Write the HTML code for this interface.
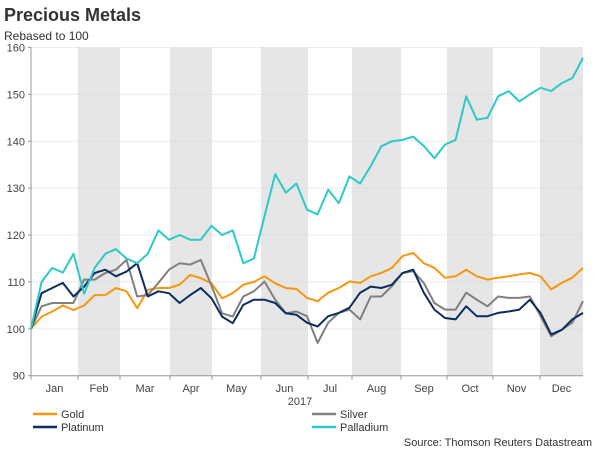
<!DOCTYPE html>
<html><head><meta charset="utf-8"><style>
body{margin:0;background:#fff;font-family:"Liberation Sans",Arial,sans-serif;}
svg text{font-family:"Liberation Sans",Arial,sans-serif;}
</style></head><body>
<svg width="600" height="450" viewBox="0 0 600 450">
<text x="4" y="21" font-size="18" font-weight="bold" fill="#333">Precious Metals</text>
<text x="4" y="40" font-size="12" fill="#333">Rebased to 100</text>
<g id="bands"></g><g id="grid"></g><g id="axes"></g><g id="series"></g>
<text x="300" y="405" font-size="11" fill="#444" text-anchor="middle">2017</text>
<g>
<g><line x1="33" y1="414" x2="57" y2="414" stroke="#f7960f" stroke-width="2.5"/><text x="61" y="418" font-size="11" fill="#333">Gold</text></g>
<g><line x1="33" y1="427" x2="57" y2="427" stroke="#0c2d5e" stroke-width="2.5"/><text x="61" y="431" font-size="11" fill="#333">Platinum</text></g>
<g><line x1="312" y1="414" x2="336" y2="414" stroke="#808080" stroke-width="2.5"/><text x="340" y="418" font-size="11" fill="#333">Silver</text></g>
<g><line x1="312" y1="427" x2="336" y2="427" stroke="#2ec8c8" stroke-width="2.5"/><text x="340" y="431" font-size="11" fill="#333">Palladium</text></g>
</g>
<text x="592" y="446" font-size="11" fill="#333" text-anchor="end">Source: Thomson Reuters Datastream</text>
</svg>
<script>
const months=["Jan","Feb","Mar","Apr","May","Jun","Jul","Aug","Sep","Oct","Nov","Dec"];
const yTicks=[90,100,110,120,130,140,150,160];
const gold=[100,102.6,103.7,105,104,105,107.2,107.2,108.7,108,104.4,108.3,108.7,108.7,109.4,111.5,110.8,109.7,106.5,107.6,109.4,110,111.2,109.7,108.7,108.5,106.6,105.9,107.7,108.7,110.1,109.8,111.2,111.9,113,115.5,116.2,114,113,110.9,111.2,112.6,111.2,110.5,110.9,111.2,111.6,111.9,111.2,108.4,109.8,110.9,113];
const platinum=[100,107.6,108.7,109.8,106.9,109,111.9,112.6,111.2,112.2,114,106.9,108,107.6,105.5,107.2,108.7,106.5,102.6,101.2,105.1,106.2,106.2,105.5,103.3,103,101.3,100.5,102.7,103.4,104.5,107.7,109,108.7,109.4,111.9,112.6,107.7,104.1,102.3,102,104.8,102.7,102.7,103.4,103.7,104.1,106.2,103.4,98.8,99.8,102,103.4];
const silver=[100,104.8,105.5,105.5,105.5,110.5,110.5,111.9,112.6,114.7,106.9,107.2,109.8,112.6,114,113.7,114.7,109.2,103.3,102.6,106.9,108,110.1,106.2,103.3,103.7,102.7,97,101.3,103.4,104.1,102,106.9,106.9,109.1,111.9,112.3,109.8,105.5,104.1,104.1,107.7,106.2,104.8,106.9,106.6,106.6,106.9,102.7,98.4,99.8,101.3,105.9];
const palladium=[100,110,113,112,116,107.5,113,116,117,115,114,116,121,119,120,119,119,122,120,121,114,115,124,133,129,131,125.4,124.4,129.7,126.8,132.5,131,134.7,138.9,140,140.3,141,139,136.4,139.3,140.3,149.6,144.6,145,149.6,150.7,148.5,150,151.4,150.7,152.4,153.5,157.8];
const X0=31,X1=583,Y0=375.7,Y1=47.5,VMIN=90,VMAX=160;
const monthEdges=[31,78,120,170,212,261,308,352,401,447,493,540,583];
const NS="http://www.w3.org/2000/svg";
function yS(v){return Y0-(v-VMIN)/(VMAX-VMIN)*(Y0-Y1);}
function xS(i,n){return X0+i/(n-1)*(X1-X0);}
function mk(tag,attrs,parent){const e=document.createElementNS(NS,tag);for(const k in attrs)e.setAttribute(k,attrs[k]);parent.appendChild(e);return e;}
const bands=document.getElementById('bands'),grid=document.getElementById('grid'),axes=document.getElementById('axes'),ser=document.getElementById('series');
months.forEach((m,i)=>{
  if(i%2===1){const r=mk('rect',{x:monthEdges[i],y:Y1,width:monthEdges[i+1]-monthEdges[i],height:Y0-Y1,fill:'#e6e6e6'},bands);
  
  }
  const t=mk('text',{x:(monthEdges[i]+monthEdges[i+1])/2,y:392,'font-size':11,fill:'#444','text-anchor':'middle'},axes);
  t.textContent=m;
  
  
  const tk=mk('line',{x1:monthEdges[i],x2:monthEdges[i],y1:Y0,y2:Y0+4,stroke:'#999'},axes);
  
  
});
yTicks.forEach(v=>{
  const g=mk('line',{x1:X0,x2:X1,y1:yS(v),y2:yS(v),stroke:'#d8d8d8','stroke-dasharray':'1,1'},grid);
  
  
  const t=mk('text',{x:X0-6,y:yS(v)+4,'font-size':11,fill:'#444','text-anchor':'end'},axes);
  t.textContent=v;
  
  
  mk('line',{x1:X0-3,x2:X0,y1:yS(v),y2:yS(v),stroke:'#999'},axes);
});
const ya=mk('line',{x1:X0,x2:X0,y1:Y1,y2:Y0,stroke:'#999'},axes);


const xa=mk('line',{x1:X0,x2:X1,y1:Y0,y2:Y0,stroke:'#999'},axes);


[[gold,'#f7960f','gold-line'],[silver,'#808080','silver-line'],[platinum,'#0c2d5e','platinum-line'],[palladium,'#2ec8c8','palladium-line']].forEach(([d,c,n])=>{
  const pts=d.map((v,i)=>xS(i,d.length).toFixed(1)+','+yS(v).toFixed(1)).join(' ');
  const p=mk('polyline',{points:pts,fill:'none',stroke:c,'stroke-width':2,'stroke-linejoin':'round'},ser);
  
  
});
</script>
</body></html>
